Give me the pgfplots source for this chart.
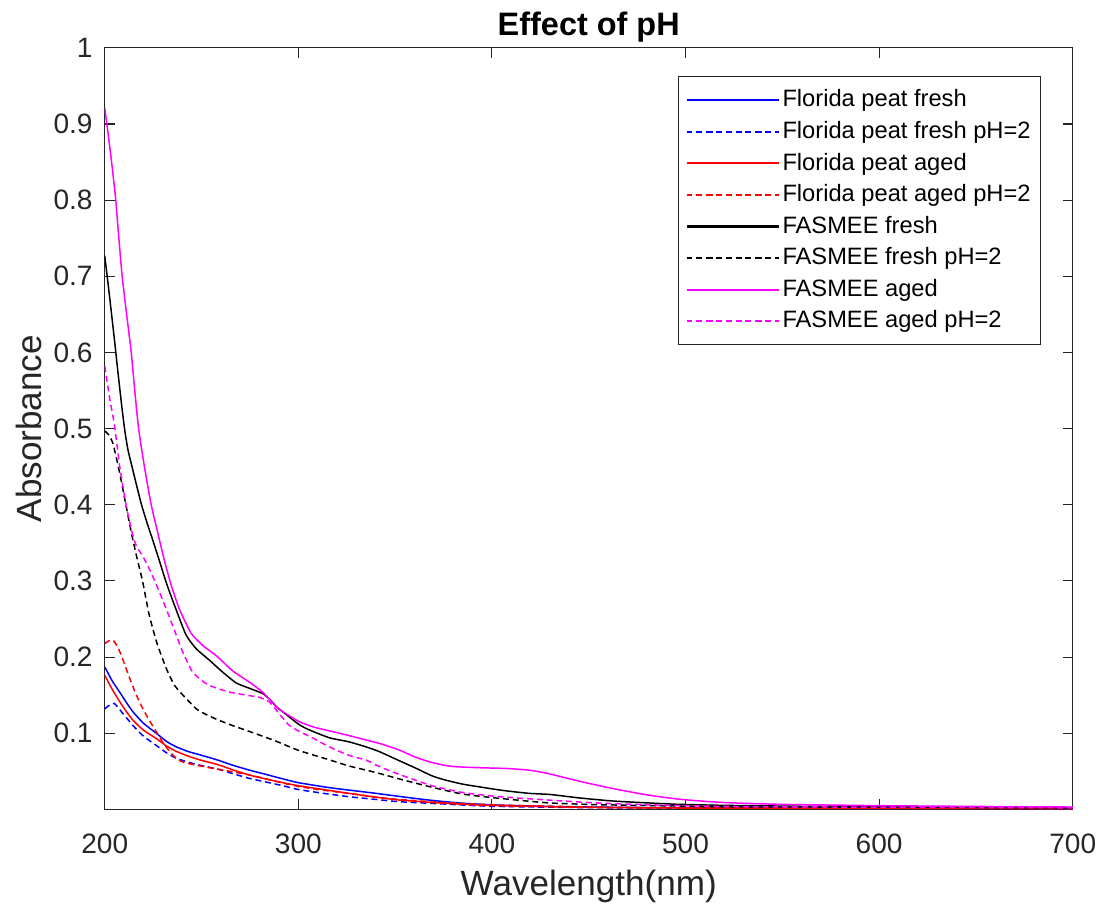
\documentclass[border=0pt]{standalone}
\usepackage{pgfplots}
\pgfplotsset{compat=1.18}
\usepackage{fontspec}
\setmainfont{Liberation Sans}
\definecolor{axgray}{rgb}{0.15,0.15,0.15}
\definecolor{mblue}{rgb}{0,0,1}
\definecolor{mred}{rgb}{1,0,0}
\definecolor{mblack}{rgb}{0,0,0}
\definecolor{mmag}{rgb}{1,0,1}
\begin{document}
\begin{tikzpicture}
\begin{axis}[
  scale only axis, width=19.4cm, height=15.26cm,
  xmin=200, xmax=700, ymin=0, ymax=1,
  xtick={200,300,...,700},
  ytick={0.1,0.2,0.3,0.4,0.5,0.6,0.7,0.8,0.9,1},
  yticklabel style={/pgf/number format/fixed, /pgf/number format/precision=1},
  /pgf/number format/assume math mode=true,
  tick align=inside, major tick length=0.2cm,
  axis line style={axgray, line width=0.6pt},
  every tick/.style={axgray, line width=0.6pt},
  tick label style={font=\fontsize{16}{19}\selectfont, text=axgray},
  xticklabel style={yshift=-0.36cm},
  yticklabel style={xshift=-0.12cm},
  xlabel={Wavelength(nm)}, ylabel={Absorbance},
  label style={font=\fontsize{20}{24}\selectfont, text=axgray},
  xlabel style={yshift=-0.1cm},
  ylabel style={yshift=0.0cm},
  title={\textbf{Effect of pH}},
  title style={font=\fontsize{18.5}{22}\selectfont, at={(0.5,1)}, anchor=base, yshift=0.04cm},
  legend style={at={(0.967,0.963)}, anchor=north east, draw=axgray, line width=0.6pt,
    font=\fontsize{13.5}{16}\selectfont, inner xsep=4pt, inner ysep=4.5pt,
    nodes={inner sep=1.5pt, text height=11.3pt, text depth=3.7pt},
    /tikz/every even column/.append style={column sep=0pt}},
  legend cell align=left,
  legend image code/.code={\draw[#1, line width=1.2pt] plot coordinates {(0cm,0cm) (1.85cm,0cm)};},
  every axis plot/.append style={line width=0.85pt, smooth, tension=0.35},
]
% Florida peat fresh
\addplot[mblue] coordinates {(200,0.187) (204,0.168) (207.7,0.154) (211,0.141) (214.6,0.128) (220,0.113) (226.6,0.100) (232,0.089) (237,0.082) (243,0.076) (249,0.0717) (258,0.065) (266,0.058) (274.7,0.0515) (283,0.046) (292,0.040) (300,0.035) (316,0.0285) (326,0.0253) (340,0.021) (352,0.017) (368,0.012) (385,0.008) (402,0.0057) (430,0.0038) (470,0.0025) (530,0.0018) (600,0.0013) (700,0.001)};
\addlegendentry{Florida peat fresh}
% Florida peat fresh pH=2
\addplot[mblue, dash pattern=on 3.4pt off 2.2pt] coordinates {(200,0.132) (202.5,0.137) (205,0.139) (209,0.127) (214.6,0.110) (220,0.096) (226.6,0.084) (232,0.074) (237,0.067) (243,0.062) (249,0.058) (258,0.053) (266,0.047) (274.7,0.0406) (283,0.036) (292,0.031) (300,0.026) (313,0.021) (326,0.0166) (340,0.013) (352,0.010) (375,0.007) (400,0.004) (450,0.0022) (520,0.0015) (700,0.001)};
\addlegendentry{Florida peat fresh pH=2}
% Florida peat aged
\addplot[mred] coordinates {(200,0.176) (204,0.157) (207.7,0.1415) (211,0.129) (214.6,0.117) (220,0.104) (226.6,0.093) (232,0.083) (237,0.076) (243,0.070) (249,0.065) (258,0.059) (266,0.052) (274.7,0.045) (283,0.040) (292,0.035) (300,0.031) (313,0.026) (326,0.021) (340,0.016) (352,0.0122) (375,0.008) (400,0.005) (450,0.0025) (520,0.0015) (700,0.001)};
\addlegendentry{Florida peat aged}
% Florida peat aged pH=2
\addplot[mred, dash pattern=on 3.4pt off 2.2pt] coordinates {(200,0.2176) (202,0.221) (204.3,0.222) (206.5,0.214) (208.6,0.202) (212.9,0.172) (216,0.152) (219.7,0.132) (223,0.117) (226.6,0.102) (230,0.088) (233.5,0.076) (237,0.067) (240.4,0.062) (249,0.057) (260,0.052) (275,0.045) (288,0.037) (300,0.030) (313,0.025) (326,0.021) (340,0.016) (352,0.013) (375,0.009) (400,0.006) (450,0.003) (500,0.002) (700,0.001)};
\addlegendentry{Florida peat aged pH=2}
% FASMEE fresh
\addplot[mblack] coordinates {(200,0.727) (201.5,0.695) (203,0.662) (205,0.617) (207,0.570) (209,0.525) (210.5,0.495) (212,0.472) (214,0.451) (216.5,0.425) (219,0.400) (222,0.375) (225,0.352) (228.4,0.325) (232,0.296) (236.9,0.262) (242,0.229) (247.2,0.211) (254,0.196) (261,0.180) (267.9,0.166) (274.7,0.159) (281.6,0.152) (285,0.145) (289,0.134) (294,0.124) (300,0.112) (305,0.105) (316,0.094) (326,0.0887) (335,0.082) (342,0.0756) (352,0.064) (361,0.0537) (369,0.0440) (376,0.0384) (385,0.033) (393,0.0297) (405,0.025) (419,0.021) (430,0.0195) (445,0.015) (462,0.011) (480,0.0085) (496,0.0066) (520,0.0052) (560,0.004) (620,0.003) (700,0.002)};
\addlegendentry{FASMEE fresh}
% FASMEE fresh pH=2
\addplot[mblack, dash pattern=on 3.4pt off 2.2pt] coordinates {(200,0.497) (202,0.492) (204.3,0.480) (207.7,0.442) (210.3,0.408) (213.7,0.364) (216.3,0.334) (219.5,0.300) (223,0.255) (227,0.218) (231.8,0.185) (236,0.163) (240.4,0.150) (247.3,0.132) (252,0.125) (258,0.118) (266,0.110) (275,0.102) (288,0.090) (300,0.0775) (316,0.065) (326,0.057) (335,0.0515) (342,0.047) (352,0.040) (369,0.029) (385,0.020) (404,0.0144) (429,0.0085) (453,0.0062) (480,0.005) (522,0.0035) (600,0.0028) (700,0.002)};
\addlegendentry{FASMEE fresh pH=2}
% FASMEE aged
\addplot[mmag] coordinates {(200,0.921) (202,0.882) (204,0.840) (205.7,0.800) (207.3,0.750) (209,0.700) (211.3,0.650) (213.7,0.600) (215.5,0.550) (217.5,0.500) (220.5,0.450) (224,0.400) (227.5,0.362) (231,0.325) (234.5,0.293) (238.7,0.262) (244.7,0.231) (250.7,0.215) (257.5,0.202) (266,0.182) (274.7,0.167) (281.5,0.154) (289,0.134) (294,0.125) (300.5,0.115) (308,0.108) (316,0.103) (326,0.097) (335,0.091) (342,0.0865) (352,0.078) (360,0.069) (367.5,0.0625) (375,0.058) (381,0.056) (395,0.0545) (407,0.0537) (419,0.0515) (429,0.047) (445,0.037) (462,0.0275) (480,0.019) (496,0.0135) (510,0.0105) (522,0.0087) (550,0.0065) (600,0.0048) (650,0.0038) (700,0.003)};
\addlegendentry{FASMEE aged}
% FASMEE aged pH=2
\addplot[mmag, dash pattern=on 3.4pt off 2.2pt] coordinates {(200,0.582) (202.6,0.539) (205,0.505) (207.7,0.451) (211,0.400) (214,0.365) (216.3,0.346) (219.5,0.333) (223,0.316) (227.5,0.290) (231.8,0.263) (236,0.235) (240.4,0.206) (245.5,0.180) (252.4,0.165) (258,0.159) (264.4,0.154) (273,0.150) (279.9,0.147) (285,0.141) (290,0.126) (295,0.111) (300,0.103) (308,0.093) (316,0.082) (326,0.071) (335,0.0646) (342,0.056) (352,0.046) (369,0.031) (385,0.022) (404,0.0166) (429,0.0122) (453,0.0085) (480,0.006) (522,0.0038) (600,0.0028) (700,0.002)};
\addlegendentry{FASMEE aged pH=2}
\coordinate (bl) at (rel axis cs:-0.1082,-0.1232);
\coordinate (tr) at (rel axis cs:1.0278,1.0629);
\end{axis}
\path (bl) rectangle (tr);
\end{tikzpicture}
\end{document}
